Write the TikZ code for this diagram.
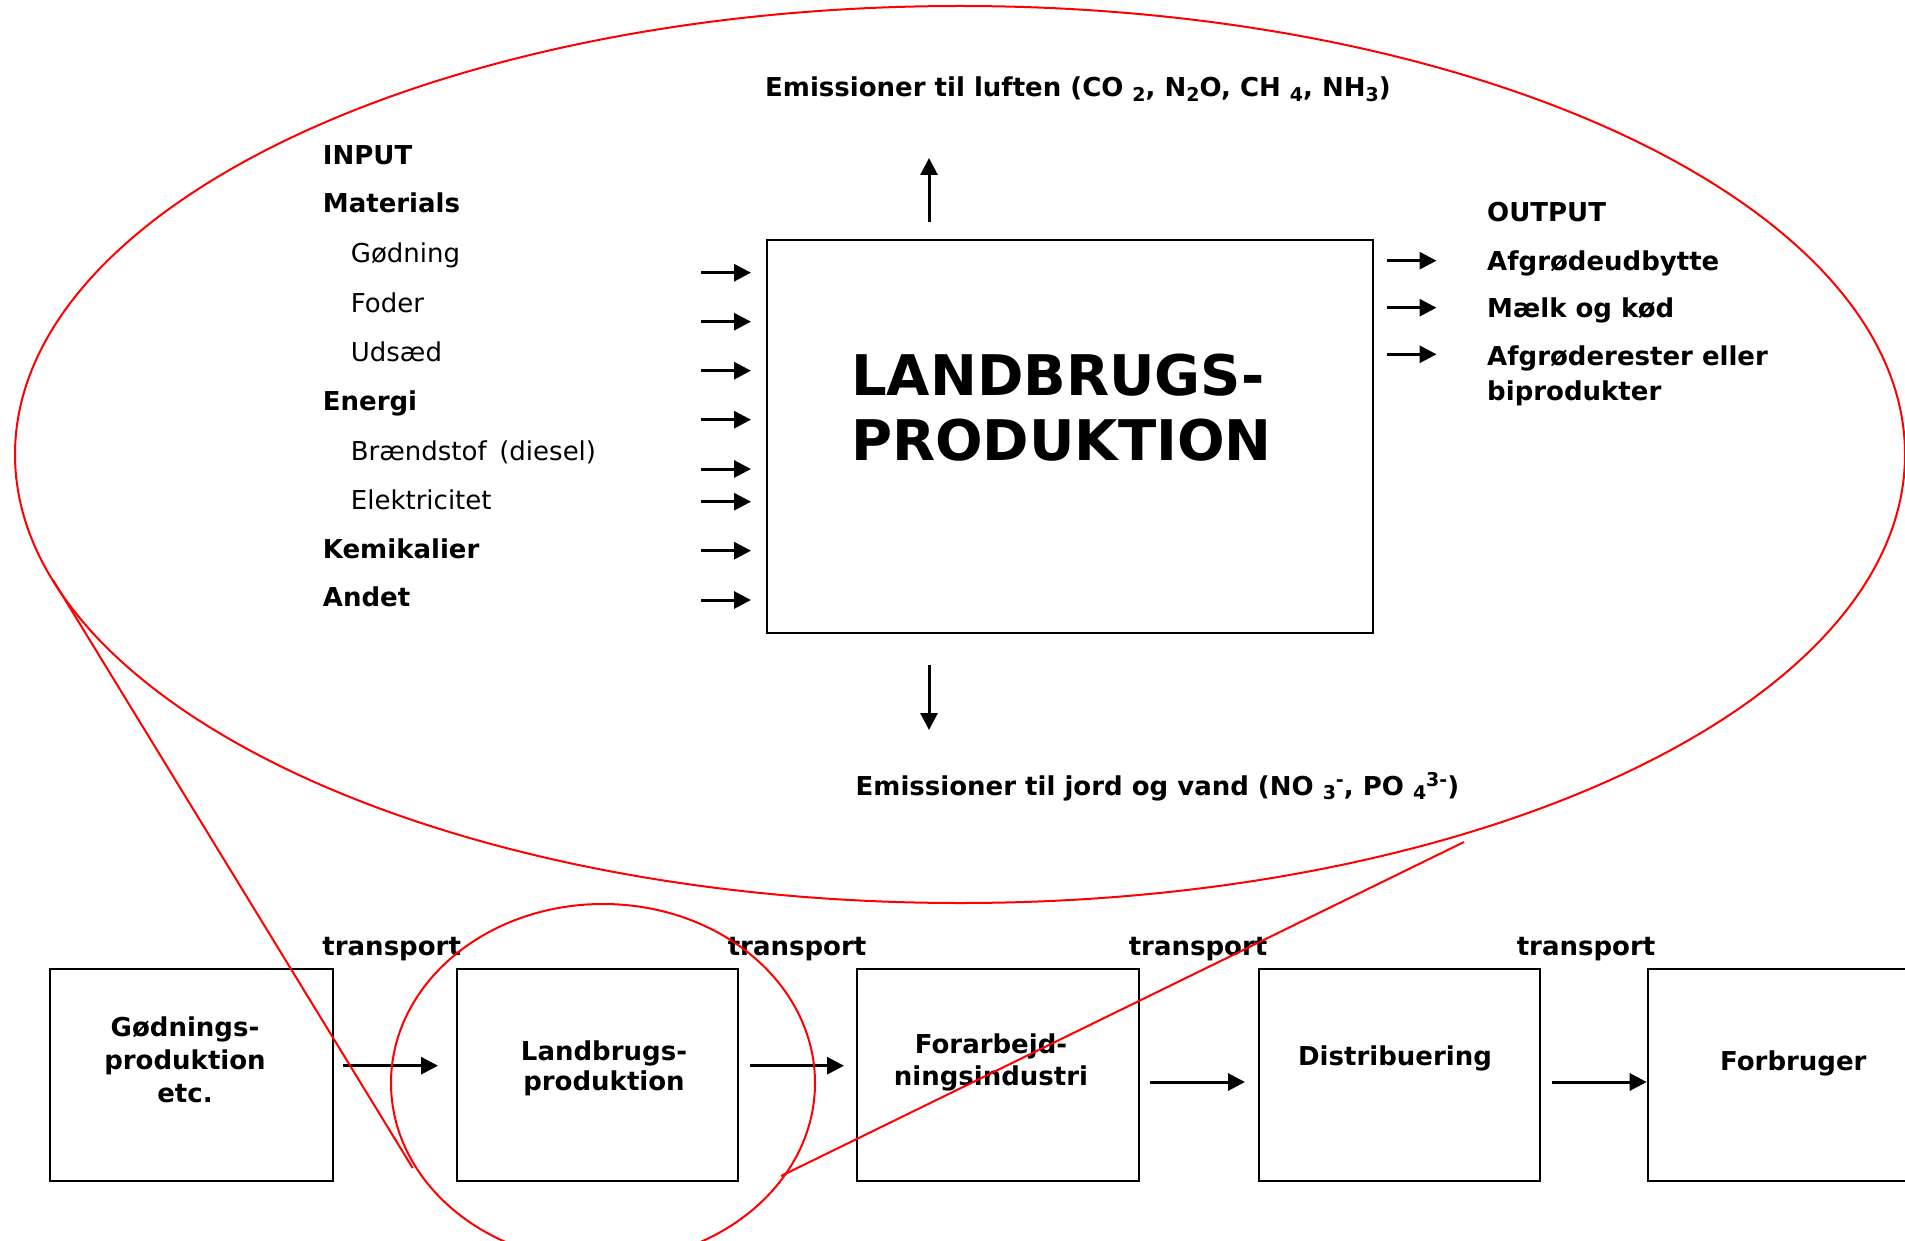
\documentclass[tikz,border=0pt]{standalone}
\usepackage{fontspec}
\setmainfont{DejaVu Sans}
\usetikzlibrary{arrows.meta,shapes.geometric}
\newcommand{\mysub}[1]{\raisebox{-4.5pt}{\fontsize{19}{19}\selectfont #1}}
\newcommand{\mysup}[1]{\raisebox{9pt}{\fontsize{19}{19}\selectfont #1}}
\begin{document}
\begin{tikzpicture}[x=1pt,y=-1pt,
  lblb/.style={font=\fontsize{26}{26}\selectfont\bfseries, anchor=base west, inner sep=0pt},
  lblr/.style={font=\fontsize{26}{26}\selectfont, anchor=base west, inner sep=0pt},
  bt/.style={font=\fontsize{26}{26}\selectfont\bfseries, anchor=base, inner sep=0pt},
  arr/.style={line width=3pt, -{Triangle[length=17pt,width=17pt]}},
  redl/.style={draw=red, line width=2pt},
  boxst/.style={draw, line width=2pt, anchor=north west, inner sep=0pt},
  redell/.style={draw=red, line width=2pt, ellipse, inner sep=0pt}
]
\useasboundingbox (0,0) rectangle (1905,1241);

% big ellipse
\node[redell, minimum width=1890pt, minimum height=897pt] (bigell) at (960,454.5) {};

% main box
\node[boxst, minimum width=606pt, minimum height=393pt] (main) at (766,239) {};
\node[font=\fontsize{56}{56}\selectfont\bfseries, anchor=base west, inner sep=0pt] (t1) at (851,395.7) {LANDBRUGS-};
\node[font=\fontsize{56}{56}\selectfont\bfseries, anchor=base west, inner sep=0pt] (t2) at (851,460.7) {PRODUKTION};

% emissions
\node[lblb] (emair) at (765,96.7) {Emissioner til luften (CO \mysub{2}, N\mysub{2}O, CH \mysub{4}, NH\mysub{3})};
\node[lblb] (emsoil) at (855.5,795) {Emissioner til jord og vand (NO \mysub{3}\mysup{-}, PO \mysub{4}\mysup{3-})};
\coordinate (upS) at (929,222);
\coordinate (upE) at (929,158);
\draw[arr] (upS) -- (upE);
\coordinate (dnS) at (929,665);
\coordinate (dnE) at (929,730);
\draw[arr] (dnS) -- (dnE);

% input
\node[lblb] (in0) at (322.7,165) {INPUT};
\node[lblb] (in1) at (322.7,213) {Materials};
\node[lblr] (in2) at (350.7,262.7) {Gødning};
\node[lblr] (in3) at (350.7,312) {Foder};
\node[lblr] (in4) at (350.7,361.7) {Udsæd};
\node[lblb] (in5) at (322.7,410.7) {Energi};
\node[lblr] (in6) at (350.7,460) {Brændstof \,(diesel)};
\node[lblr] (in7) at (350.7,509) {Elektricitet};
\node[lblb] (in8) at (322.7,558) {Kemikalier};
\node[lblb] (in9) at (322.7,606.7) {Andet};
\foreach \yy [count=\i] in {272.7,321.7,370.7,419.7,469,501.7,550.7,600} {
  \coordinate (ins\i) at (701,\yy);
  \coordinate (ine\i) at (751,\yy);
  \draw[arr] (ins\i) -- (ine\i);
}

% output
\node[lblb] (out0) at (1487,221.7) {OUTPUT};
\node[lblb] (out1) at (1487,270) {Afgrødeudbytte};
\node[lblb] (out2) at (1487,317.7) {Mælk og kød};
\node[lblb] (out3) at (1487,365) {Afgrøderester eller};
\node[lblb] (out4) at (1487,400) {biprodukter};
\foreach \yy [count=\i] in {260.7,307.7,354.3} {
  \coordinate (outs\i) at (1387,\yy);
  \coordinate (oute\i) at (1436.5,\yy);
  \draw[arr] (outs\i) -- (oute\i);
}

% bottom chain
\node[boxst, minimum width=282.4pt, minimum height=212.3pt] (b1) at (49.3,967.7) {};
\node[boxst, minimum width=281.8pt, minimum height=212.3pt] (b2) at (455.6,967.7) {};
\node[boxst, minimum width=282.6pt, minimum height=212.3pt] (b3) at (855.7,967.7) {};
\node[boxst, minimum width=280.7pt, minimum height=212.3pt] (b4) at (1258,967.7) {};
\node[boxst, minimum width=300pt, minimum height=212.3pt] (b5) at (1646.7,967.7) {};

\node[bt] (b1a) at (185,1036.7) {Gødnings-};
\node[bt] (b1b) at (185,1069.5) {produktion};
\node[bt] (b1c) at (185,1102.7) {etc.};
\node[bt] (b2a) at (604,1060) {Landbrugs-};
\node[bt] (b2b) at (604,1090.5) {produktion};
\node[bt] (b3a) at (991,1053) {Forarbejd-};
\node[bt] (b3b) at (991,1085) {ningsindustri};
\node[bt] (b4a) at (1395,1065.7) {Distribuering};
\node[bt] (b5a) at (1793.3,1070) {Forbruger};

\node[bt] (tr1) at (391.7,955) {transport};
\node[bt] (tr2) at (797,955) {transport};
\node[bt] (tr3) at (1198,955) {transport};
\node[bt] (tr4) at (1586,955) {transport};

\coordinate (a1s) at (343,1065.7);  \coordinate (a1e) at (438,1065.7);
\coordinate (a2s) at (750,1065.7);  \coordinate (a2e) at (844,1065.7);
\coordinate (a3s) at (1150,1082);   \coordinate (a3e) at (1245,1082);
\coordinate (a4s) at (1552,1082);   \coordinate (a4e) at (1646.7,1082);
\draw[arr] (a1s) -- (a1e);
\draw[arr] (a2s) -- (a2e);
\draw[arr] (a3s) -- (a3e);
\draw[arr] (a4s) -- (a4e);

% small ellipse and zoom lines
\node[redell, minimum width=424pt, minimum height=358pt] (smallell) at (603,1083) {};
\coordinate (zA1) at (53,580);
\coordinate (zA2) at (412.7,1168);
\coordinate (zB1) at (1464,842);
\coordinate (zB2) at (781,1176);
\draw[redl] (zA1) -- (zA2);
\draw[redl] (zB1) -- (zB2);
\end{tikzpicture}
\end{document}
